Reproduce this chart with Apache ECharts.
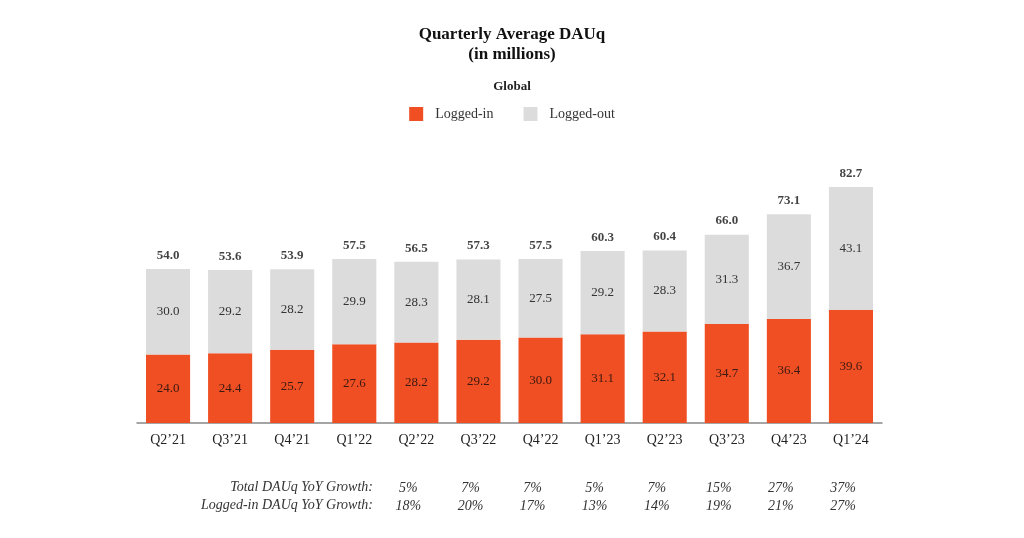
<!DOCTYPE html>
<html>
<head>
<meta charset="utf-8">
<script src="https://cdn.jsdelivr.net/npm/echarts@6/dist/echarts.min.js"></script>
<style>html,body{margin:0;padding:0;background:#fff}#c{width:1024px;height:538px}</style>
</head>
<body>
<div id="c"></div>
<script>
const categories = ["Q2\u201921","Q3\u201921","Q4\u201921","Q1\u201922","Q2\u201922","Q3\u201922","Q4\u201922","Q1\u201923","Q2\u201923","Q3\u201923","Q4\u201923","Q1\u201924"];
const loggedIn = [24.0,24.4,25.7,27.6,28.2,29.2,30.0,31.1,32.1,34.7,36.4,39.6];
const loggedOut = [30.0,29.2,28.2,29.9,28.3,28.1,27.5,29.2,28.3,31.3,36.7,43.1];
const totals = [54.0,53.6,53.9,57.5,56.5,57.3,57.5,60.3,60.4,66.0,73.1,82.7];
const totalGrowth = ["","","","","5%","7%","7%","5%","7%","15%","27%","37%"];
const loggedInGrowth = ["","","","","18%","20%","17%","13%","14%","19%","21%","27%"];

const FONT = '"Liberation Serif", "Times New Roman", serif';
const chart = echarts.init(document.getElementById('c'), null, {renderer: 'canvas'});

function growthAxis(labels, offset) {
  return {
    type: 'category', data: categories, gridIndex: 0, position: 'bottom', offset: offset,
    axisLine: {show: false}, axisTick: {show: false},
    axisLabel: {
      interval: 0, margin: 10, fontFamily: FONT, fontSize: 14, fontStyle: 'italic', color: '#333',
      padding: [0, 16, 0, 0],
      formatter: (v, i) => labels[i]
    }
  };
}

chart.setOption({
  backgroundColor: '#fff',
  animation: false,
  title: [
    {text: 'Quarterly Average DAUq\n(in millions)', left: 'center', top: 20,
     textStyle: {fontFamily: FONT, fontSize: 17, fontWeight: 'bold', color: '#111', lineHeight: 20}},
    {text: 'Global', left: 'center', top: 75,
     textStyle: {fontFamily: FONT, fontSize: 13, fontWeight: 'bold', color: '#222'}}
  ],
  legend: {
    data: ['Logged-in', 'Logged-out'], top: 102, left: 'center',
    itemWidth: 14, itemHeight: 14, itemGap: 30, icon: 'rect',
    textStyle: {fontFamily: FONT, fontSize: 14, color: '#333', padding: [0, 0, 0, 7]}
  },
  grid: {left: 137, right: 142, top: 137.6, bottom: 115},
  xAxis: [
    {
      type: 'category', data: categories,
      axisLine: {lineStyle: {color: '#888', width: 1.5}},
      axisTick: {show: false},
      axisLabel: {interval: 0, margin: 10, fontFamily: FONT, fontSize: 14, color: '#222'}
    },
    growthAxis(totalGrowth, 48),
    growthAxis(loggedInGrowth, 66)
  ],
  yAxis: {type: 'value', min: 0, max: 100, show: false, splitLine: {show: false}},
  series: [
    {
      name: 'Logged-in', type: 'bar', stack: 'dau', data: loggedIn, barWidth: '71%',
      itemStyle: {color: '#F04E23'},
      label: {show: true, position: 'inside', fontFamily: FONT, fontSize: 13, color: '#3a1a12',
              formatter: p => p.value.toFixed(1)}
    },
    {
      name: 'Logged-out', type: 'bar', stack: 'dau', data: loggedOut, barWidth: '71%',
      itemStyle: {color: '#DCDCDC'},
      label: {show: true, position: 'inside', fontFamily: FONT, fontSize: 13, color: '#333',
              formatter: p => p.value.toFixed(1)}
    },
    {
      name: 'Total', type: 'scatter', data: totals, symbolSize: 0, silent: true,
      label: {show: true, position: 'top', distance: 7, fontFamily: FONT, fontSize: 13,
              fontWeight: 'bold', color: '#111', formatter: p => p.value.toFixed(1)}
    }
  ],
  graphic: [
    {type: 'text', right: 1024 - 373, top: 480,
     style: {text: 'Total DAUq YoY Growth:', font: 'italic 14px ' + FONT, fill: '#333', textAlign: 'right'}},
    {type: 'text', right: 1024 - 373, top: 498,
     style: {text: 'Logged-in DAUq YoY Growth:', font: 'italic 14px ' + FONT, fill: '#333', textAlign: 'right'}}
  ]
});
</script>
</body>
</html>
